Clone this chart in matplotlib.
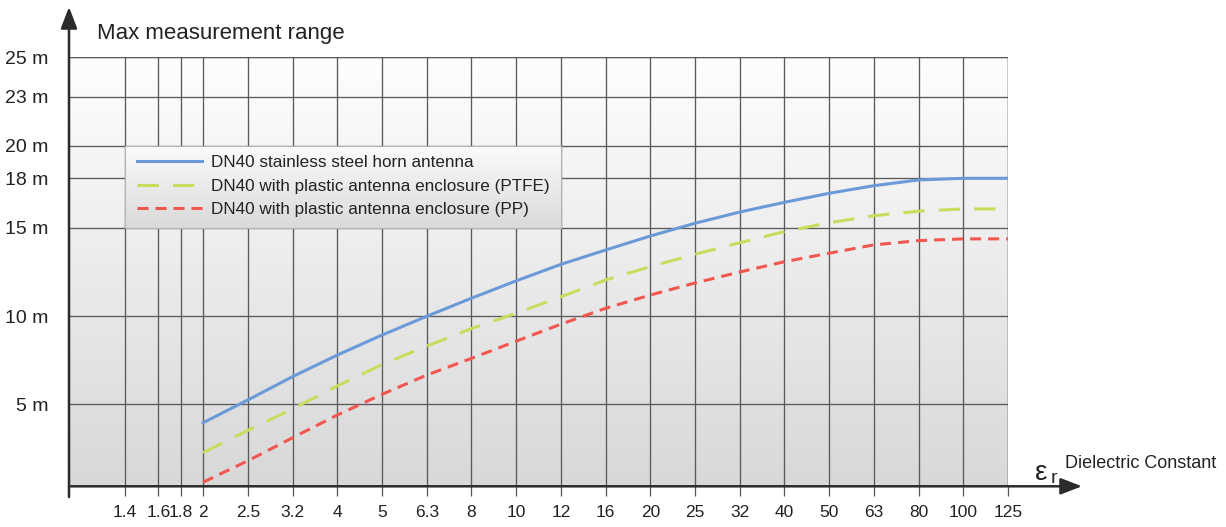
import numpy as np
import matplotlib
matplotlib.use("Agg")
import matplotlib.pyplot as plt

plt.rcParams['font.family'] = ['Liberation Sans', 'DejaVu Sans']

# dielectric constant ticks and where they sit on the (hand drawn) axis, in grid steps
eps_ticks = [1.0, 1.4, 1.6, 1.8, 2, 2.5, 3.2, 4, 5, 6.3, 8, 10, 12, 16, 20, 25, 32, 40, 50, 63, 80, 100, 125]
eps_steps = [-3, -1.75, -1, -0.5] + list(range(0, 19))
eps_labels = ['1.4', '1.6', '1.8', '2', '2.5', '3.2', '4', '5', '6.3', '8', '10', '12',
              '16', '20', '25', '32', '40', '50', '63', '80', '100', '125']

# range ticks (m) and their drawn heights
range_ticks = [0, 5, 10, 15, 18, 20, 23, 25]
range_steps = [0, 82.3, 170, 258.6, 308, 340.6, 389.6, 429]
range_labels = ['5 m', '10 m', '15 m', '18 m', '20 m', '23 m', '25 m']

eps = [2, 2.5, 3.2, 4, 5, 6.3, 8, 10, 12, 16, 20, 25, 32, 40, 50, 63, 80, 100, 125]
horn = [3.86, 5.23, 6.56, 7.79, 8.93, 10.0, 11.02, 12.0, 12.93, 13.74, 14.53, 15.27,
        15.95, 16.54, 17.09, 17.55, 17.9, 18.0, 18.0]
ptfe = [2.04, 3.4, 4.7, 6.03, 7.25, 8.3, 9.3, 10.17, 11.1, 12.05, 12.8, 13.5,
        14.15, 14.78, 15.3, 15.73, 16.0, 16.14, 16.14]
pp = [0.25, 1.55, 2.95, 4.33, 5.55, 6.65, 7.6, 8.58, 9.55, 10.45, 11.2, 11.88,
      12.5, 13.08, 13.56, 14.03, 14.27, 14.37, 14.37]

series_names = ['DN40 stainless steel horn antenna',
                'DN40 with plastic antenna enclosure (PTFE)',
                'DN40 with plastic antenna enclosure (PP)']

W, H = 1226, 527
fig = plt.figure(figsize=(W / 100, H / 100), dpi=100)
ax = fig.add_axes([69 / W, 1 - 486.3 / H, (1008 - 69) / W, (486.3 - 57.3) / H])

ax.set_xscale('function', functions=(lambda v: np.interp(v, eps_ticks, eps_steps),
                                     lambda p: np.interp(p, eps_steps, eps_ticks)))
ax.set_yscale('function', functions=(lambda v: np.interp(v, range_ticks, range_steps),
                                     lambda p: np.interp(p, range_steps, range_ticks)))
ax.set_xlim(eps_ticks[0], eps_ticks[-1])
ax.set_ylim(0, 25)

# gradient background
grad = np.linspace(0, 1, 256).reshape(-1, 1)
ax.imshow(grad, cmap=matplotlib.colors.LinearSegmentedColormap.from_list(
    'bg', ['#fefefe', '#d8d8d9']), extent=[0, 1, 0, 1], transform=ax.transAxes,
    aspect='auto', zorder=0, origin='upper')

ax.set_xticks(eps_ticks[1:])
ax.set_xticklabels(eps_labels)
ax.set_yticks(range_ticks[1:])
ax.set_yticklabels(range_labels)
ax.grid(True, color='#5a5a5a', lw=0.95, zorder=1)
for s in ax.spines.values():
    s.set_visible(False)
ax.plot([1, 1], [0, 1], transform=ax.transAxes, color='#5a5a5a', lw=0.95, zorder=1)
ax.plot([0, 1], [1, 1], transform=ax.transAxes, color='#5a5a5a', lw=0.95, zorder=1)
ax.tick_params(axis='x', length=7.5, width=0.9, color='#555555', direction='out',
               pad=6, labelsize=12.5, labelcolor='#222222')
ax.tick_params(axis='y', length=0, pad=15, labelsize=14, labelcolor='#222222')

ax.plot(eps, horn, color='#6a9ad8', lw=2.2, zorder=4)
ax.plot(eps, ptfe, color='#c9dc5e', lw=2.2, dashes=(7, 4.6), zorder=4)
ax.plot(eps, pp, color='#f2574f', lw=2.2, dashes=(3.6, 2.3), zorder=4)

# legend box with gradient, covering the grid between 1.4..12 and 15..20 m
fig.canvas.draw()
(lx0, ly0), (lx1, ly1) = ax.transAxes.inverted().transform(
    ax.transData.transform([(1.4, 15), (12, 20)]))
ax.imshow(grad, cmap=matplotlib.colors.LinearSegmentedColormap.from_list(
    'lg', ['#fbfbfb', '#dadadb']), extent=[lx0, lx1, ly0, ly1], transform=ax.transAxes,
    aspect='auto', zorder=2, origin='upper')
ax.add_patch(plt.Rectangle((lx0, ly0), lx1 - lx0, ly1 - ly0, transform=ax.transAxes,
                           fill=False, ec='#b5b5b5', lw=0.8, zorder=2.5))
ax.set_xlim(eps_ticks[0], eps_ticks[-1])
ax.set_ylim(0, 25)

h1, = ax.plot([], [], color='#6a9ad8', lw=2.2)
h2, = ax.plot([], [], color='#c9dc5e', lw=2.2, dashes=(7, 4.6))
h3, = ax.plot([], [], color='#f2574f', lw=2.2, dashes=(3.6, 2.3))
leg = ax.legend([h1, h2, h3], series_names, loc='upper left',
                bbox_to_anchor=(136.7 / W, 1 - 155.0 / H), bbox_transform=fig.transFigure,
                frameon=False, borderpad=0, borderaxespad=0, fontsize=12.3,
                handlelength=3.8, handletextpad=0.55, labelspacing=0.51)
for t in leg.get_texts():
    t.set_color('#222222')
leg.set_zorder(5)

# axis arrows
arrow = dict(arrowstyle='-|>,head_length=1.3,head_width=0.5', lw=1.8, color='#2b2b2b',
             shrinkA=0, shrinkB=0, mutation_scale=10)
ax.annotate('', xy=(0, (486.3 - 7) / 429), xytext=(0, -0.025), xycoords='axes fraction',
            arrowprops=arrow, annotation_clip=False, zorder=6)
ax.annotate('', xy=((1082 - 69) / 939, 0), xytext=(0, 0), xycoords='axes fraction',
            arrowprops=arrow, annotation_clip=False, zorder=6)

fig.text(97 / W, 1 - 39 / H, 'Max measurement range', fontsize=16, color='#222222',
         ha='left', va='baseline')
fig.text(1035 / W, 1 - 480 / H, 'ε', fontsize=20, color='#222222', ha='left', va='baseline')
fig.text(1051 / W, 1 - 483 / H, 'r', fontsize=14, color='#222222', ha='left', va='baseline')
fig.text(1065 / W, 1 - 468 / H, 'Dielectric Constant', fontsize=13, color='#222222',
         ha='left', va='baseline')

fig.savefig('out.png', dpi=100)
